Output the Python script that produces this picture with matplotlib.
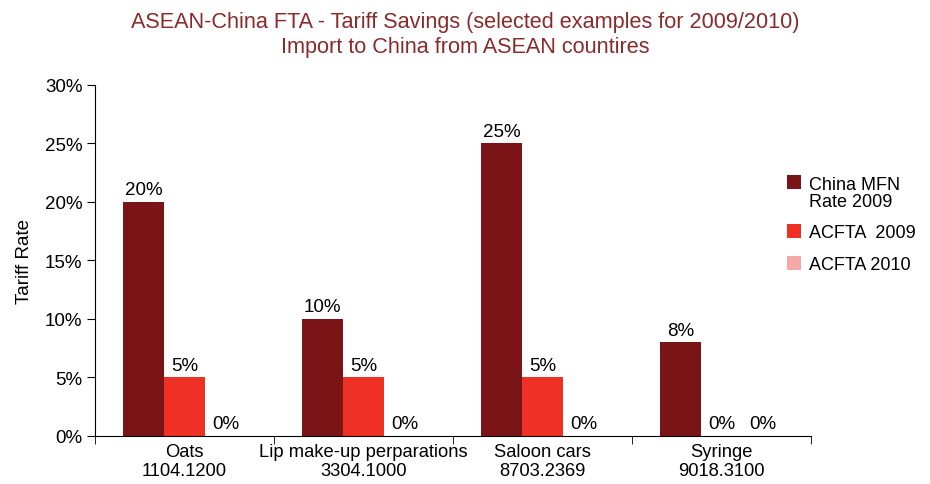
import numpy as np
import matplotlib.pyplot as plt
from matplotlib.ticker import PercentFormatter

plt.rcParams["font.family"] = ["Liberation Sans", "DejaVu Sans"]

products = ["Oats\n1104.1200", "Lip make-up perparations\n3304.1000",
            "Saloon cars\n8703.2369", "Syringe\n9018.3100"]
series = ["China MFN\nRate 2009", "ACFTA  2009", "ACFTA 2010"]
mfn_2009 = [20, 10, 25, 8]
acfta_2009 = [5, 5, 5, 0]
acfta_2010 = [0, 0, 0, 0]
colors = ["#7b1416", "#ee3124", "#f5a8a6"]

fig = plt.figure(figsize=(9.3, 4.85), dpi=100)
ax = fig.add_axes([0.102, 0.099, 0.770, 0.724])

x = np.arange(len(products))
w = 0.229
for i, (vals, lab, c) in enumerate(zip([mfn_2009, acfta_2009, acfta_2010], series, colors)):
    bars = ax.bar(x + (i - 1) * w, vals, w, color=c, label=lab)
    for b, v in zip(bars, vals):
        ax.text(b.get_x() + b.get_width() / 2, v + 0.3, f"{v}%",
                ha="center", va="bottom", fontsize=13.5)

ax.set_xlim(-0.5, len(products) - 0.5)
ax.set_ylim(0, 30)
ax.set_yticks(range(0, 31, 5))
ax.yaxis.set_major_formatter(PercentFormatter(decimals=0))
ax.set_xticks(x)
ax.set_xticklabels(products, fontsize=13.2, linespacing=1.15)
ax.tick_params(axis="x", length=0, pad=5)
ax.set_xticks(np.arange(-0.5, len(products)), minor=True)
ax.tick_params(axis="x", which="minor", length=6, direction="out")
ax.tick_params(axis="y", labelsize=13.5, length=6, direction="out", pad=3)
for s in ["top", "right"]:
    ax.spines[s].set_visible(False)
ax.set_ylabel("Tariff Rate", fontsize=13.5)
ax.yaxis.set_label_coords(-0.086, 0.5)

fig.suptitle("ASEAN-China FTA - Tariff Savings (selected examples for 2009/2010)\n"
             "Import to China from ASEAN countires",
             color="#8a2a2d", fontsize=15.6, y=0.976, linespacing=1.3)

leg = fig.legend(loc="upper left", bbox_to_anchor=(0.836, 0.654), frameon=False,
                 fontsize=13, handlelength=0.8, handleheight=0.8, borderpad=0,
                 labelspacing=0.8, handletextpad=0.45)
# put the first square beside the first line of its two-line label
for t in leg.get_texts()[:1]:
    t.set_linespacing(1.0)
h0 = leg.legend_handles[0]
h0.set_y(h0.get_y() + 8)

fig.savefig("out.png", dpi=100)
